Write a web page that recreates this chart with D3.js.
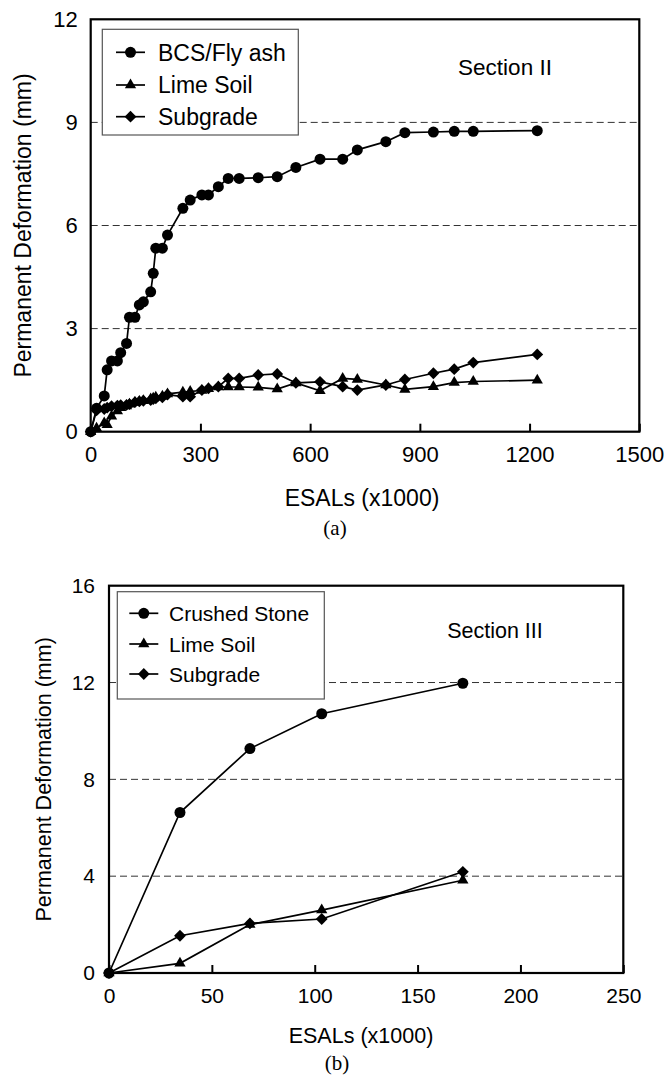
<!DOCTYPE html>
<html>
<head>
<meta charset="utf-8">
<script src="https://cdn.jsdelivr.net/npm/d3@7"></script>
<style>
  body { margin: 0; background: #fff; }
  svg { display: block; }
  text { font-family: "Liberation Sans", Arial, sans-serif; fill: #000; }
  .caption { font-family: "Liberation Serif", "Times New Roman", serif; }
</style>
</head>
<body>
<div id="chart"></div>
<script>
// ---- panel (a): Section II ----
var esalsA = [0, 16, 37, 45, 57, 73, 82, 98, 106, 121, 133, 144, 164, 171, 178, 196, 210, 252, 272, 304, 322, 349, 376, 406, 458, 510, 561, 627, 689, 729, 807, 859, 937, 994, 1046, 1221];
var bcsFlyAsh = [0, 0.68, 1.04, 1.80, 2.06, 2.06, 2.30, 2.57, 3.33, 3.33, 3.69, 3.78, 4.07, 4.61, 5.34, 5.34, 5.72, 6.50, 6.74, 6.89, 6.89, 7.13, 7.37, 7.37, 7.39, 7.42, 7.69, 7.93, 7.93, 8.20, 8.44, 8.70, 8.72, 8.74, 8.74, 8.76];
var limeSoilA = [0, 0.10, 0.25, 0.20, 0.45, 0.60, 0.70, 0.75, 0.80, 0.85, 0.88, 0.90, 0.95, 0.97, 1.00, 1.03, 1.10, 1.15, 1.17, 1.20, 1.25, 1.30, 1.30, 1.30, 1.29, 1.24, 1.42, 1.19, 1.55, 1.52, 1.36, 1.23, 1.31, 1.43, 1.46, 1.50];
var subgradeA = [0, 0.62, 0.66, 0.70, 0.74, 0.76, 0.77, 0.78, 0.80, 0.86, 0.88, 0.90, 0.92, 0.95, 0.97, 1.00, 1.08, 1.02, 1.02, 1.21, 1.26, 1.31, 1.55, 1.55, 1.65, 1.68, 1.42, 1.45, 1.31, 1.21, 1.36, 1.52, 1.70, 1.82, 2.01, 2.25];
var xTicksA = [0, 300, 600, 900, 1200, 1500];
var yTicksA = [0, 3, 6, 9, 12];

// ---- panel (b): Section III ----
var esalsB = [0, 34.5, 68.5, 103.4, 172];
var crushedStone = [0, 6.63, 9.27, 10.71, 11.97];
var limeSoilB = [0, 0.40, 2.00, 2.60, 3.83];
var subgradeB = [0, 1.54, 2.05, 2.23, 4.18];
var xTicksB = [0, 50, 100, 150, 200, 250];
var yTicksB = [0, 4, 8, 12, 16];

var svg = d3.select("#chart").append("svg")
    .attr("width", 666)
    .attr("height", 1077);

var markerPath = {
    circle: d3.symbol().type(d3.symbolCircle).size(95)(),
    triangle: d3.symbol().type(d3.symbolTriangle).size(55)(),
    diamond: d3.symbol().type(d3.symbolSquare).size(70)()
};

function drawPanel(p) {
    var x = d3.scaleLinear().domain(p.xDomain).range([p.left, p.right]);
    var y = d3.scaleLinear().domain(p.yDomain).range([p.bottom, p.top]);
    var g = svg.append("g");

    // dashed gridlines
    g.selectAll(".grid")
        .data(p.yTicks.filter(function (t) { return t > p.yDomain[0] && t < p.yDomain[1]; }))
        .enter().append("line")
        .attr("x1", p.left).attr("x2", p.right)
        .attr("y1", function (d) { return y(d); })
        .attr("y2", function (d) { return y(d); })
        .attr("stroke", "#333")
        .attr("stroke-width", 1)
        .attr("stroke-dasharray", "7,4");

    // x axis, ticks pointing inward
    var xAxis = g.append("g")
        .attr("transform", "translate(0," + p.bottom + ")")
        .call(d3.axisBottom(x).tickValues(p.xTicks).tickFormat(d3.format("d"))
            .tickSize(-8).tickPadding(15).tickSizeOuter(0));
    xAxis.select(".domain").remove();
    xAxis.selectAll("line").attr("stroke", "#000").attr("stroke-width", 2);
    xAxis.selectAll("text").style("font-size", p.font.tick + "px").attr("font-family", null);

    var yAxis = g.append("g")
        .attr("transform", "translate(" + p.left + ",0)")
        .call(d3.axisLeft(y).tickValues(p.yTicks).tickFormat(d3.format("d"))
            .tickSize(0).tickPadding(p.yPad));
    yAxis.select(".domain").remove();
    yAxis.selectAll("text").style("font-size", p.font.tick + "px").attr("font-family", null);

    // frame
    g.append("rect")
        .attr("x", p.left).attr("y", p.top)
        .attr("width", p.right - p.left).attr("height", p.bottom - p.top)
        .attr("fill", "none")
        .attr("stroke", "#000")
        .attr("stroke-width", 2.2);

    var line = d3.line()
        .x(function (d) { return x(d[0]); })
        .y(function (d) { return y(d[1]); });

    p.series.forEach(function (s) {
        var pts = p.xs.map(function (v, i) { return [v, s.values[i]]; });
        g.append("path")
            .datum(pts)
            .attr("d", line)
            .attr("fill", "none")
            .attr("stroke", "#000")
            .attr("stroke-width", 1.7);
        g.selectAll(null)
            .data(pts)
            .enter().append("path")
            .attr("d", markerPath[s.marker])
            .attr("transform", function (d) {
                return "translate(" + x(d[0]) + "," + y(d[1]) + ")" + (s.marker === "diamond" ? " rotate(45)" : "");
            })
            .attr("fill", "#000");
    });

    // legend
    var lg = g.append("g");
    lg.append("rect")
        .attr("x", p.legend.x).attr("y", p.legend.y)
        .attr("width", p.legend.w).attr("height", p.legend.h)
        .attr("fill", "#fff")
        .attr("stroke", "#555")
        .attr("stroke-width", 1.2);
    p.series.forEach(function (s, i) {
        var cy = p.legend.rowY[i];
        var lx = p.legend.x + p.legend.lineX;
        lg.append("line")
            .attr("x1", lx).attr("x2", lx + 29)
            .attr("y1", cy).attr("y2", cy)
            .attr("stroke", "#000").attr("stroke-width", 1.7);
        lg.append("path")
            .attr("d", markerPath[s.marker])
            .attr("transform", "translate(" + (lx + 14.5) + "," + cy + ")" + (s.marker === "diamond" ? " rotate(45)" : ""))
            .attr("fill", "#000");
        lg.append("text")
            .attr("x", p.legend.x + p.legend.textX)
            .attr("y", cy)
            .attr("dy", "0.36em")
            .style("font-size", p.font.legend + "px")
            .text(s.name);
    });

    // section label
    g.append("text")
        .attr("x", p.section.x).attr("y", p.section.y)
        .attr("dy", "0.36em")
        .attr("text-anchor", "middle")
        .style("font-size", p.font.section + "px")
        .text(p.section.text);

    // axis titles
    g.append("text")
        .attr("transform", "translate(" + p.yTitleX + "," + ((p.top + p.bottom) / 2) + ") rotate(-90)")
        .attr("dy", "0.36em")
        .attr("text-anchor", "middle")
        .style("font-size", p.font.title + "px")
        .text("Permanent Deformation (mm)");
    g.append("text")
        .attr("x", p.xTitleX).attr("y", p.xTitleY)
        .attr("dy", "0.36em")
        .attr("text-anchor", "middle")
        .style("font-size", p.font.title + "px")
        .text("ESALs (x1000)");
    g.append("text")
        .attr("class", "caption")
        .attr("x", p.capX).attr("y", p.capY)
        .attr("dy", "0.36em")
        .attr("text-anchor", "middle")
        .style("font-size", "21px")
        .text(p.caption);
}

drawPanel({
    left: 90.7, right: 639.3, top: 19.3, bottom: 431.7,
    xDomain: [0, 1500], yDomain: [0, 12],
    xTicks: xTicksA, yTicks: yTicksA, yPad: 13,
    xs: esalsA,
    font: { tick: 22, legend: 23, section: 22.5, title: 23 },
    series: [
        { name: "BCS/Fly ash", values: bcsFlyAsh, marker: "circle" },
        { name: "Lime Soil", values: limeSoilA, marker: "triangle" },
        { name: "Subgrade", values: subgradeA, marker: "diamond" }
    ],
    legend: { x: 102.3, y: 29.3, w: 196, h: 105.7, rowY: [52.3, 85, 116.7], lineX: 13.7, textX: 55.7 },
    section: { text: "Section II", x: 505, y: 66.7 },
    yTitleX: 23, xTitleX: 362, xTitleY: 498,
    caption: "(a)", capX: 335, capY: 527
});

drawPanel({
    left: 109, right: 623.3, top: 585.7, bottom: 973,
    xDomain: [0, 250], yDomain: [0, 16],
    xTicks: xTicksB, yTicks: yTicksB, yPad: 14,
    xs: esalsB,
    font: { tick: 21, legend: 21, section: 21.5, title: 21.5 },
    series: [
        { name: "Crushed Stone", values: crushedStone, marker: "circle" },
        { name: "Lime Soil", values: limeSoilB, marker: "triangle" },
        { name: "Subgrade", values: subgradeB, marker: "diamond" }
    ],
    legend: { x: 117.3, y: 591.7, w: 207, h: 107.3, rowY: [613.3, 644, 674], lineX: 12, textX: 51.7 },
    section: { text: "Section III", x: 495, y: 630 },
    yTitleX: 43, xTitleX: 361, xTitleY: 1035,
    caption: "(b)", capX: 337, capY: 1062
});
</script>
</body>
</html>
